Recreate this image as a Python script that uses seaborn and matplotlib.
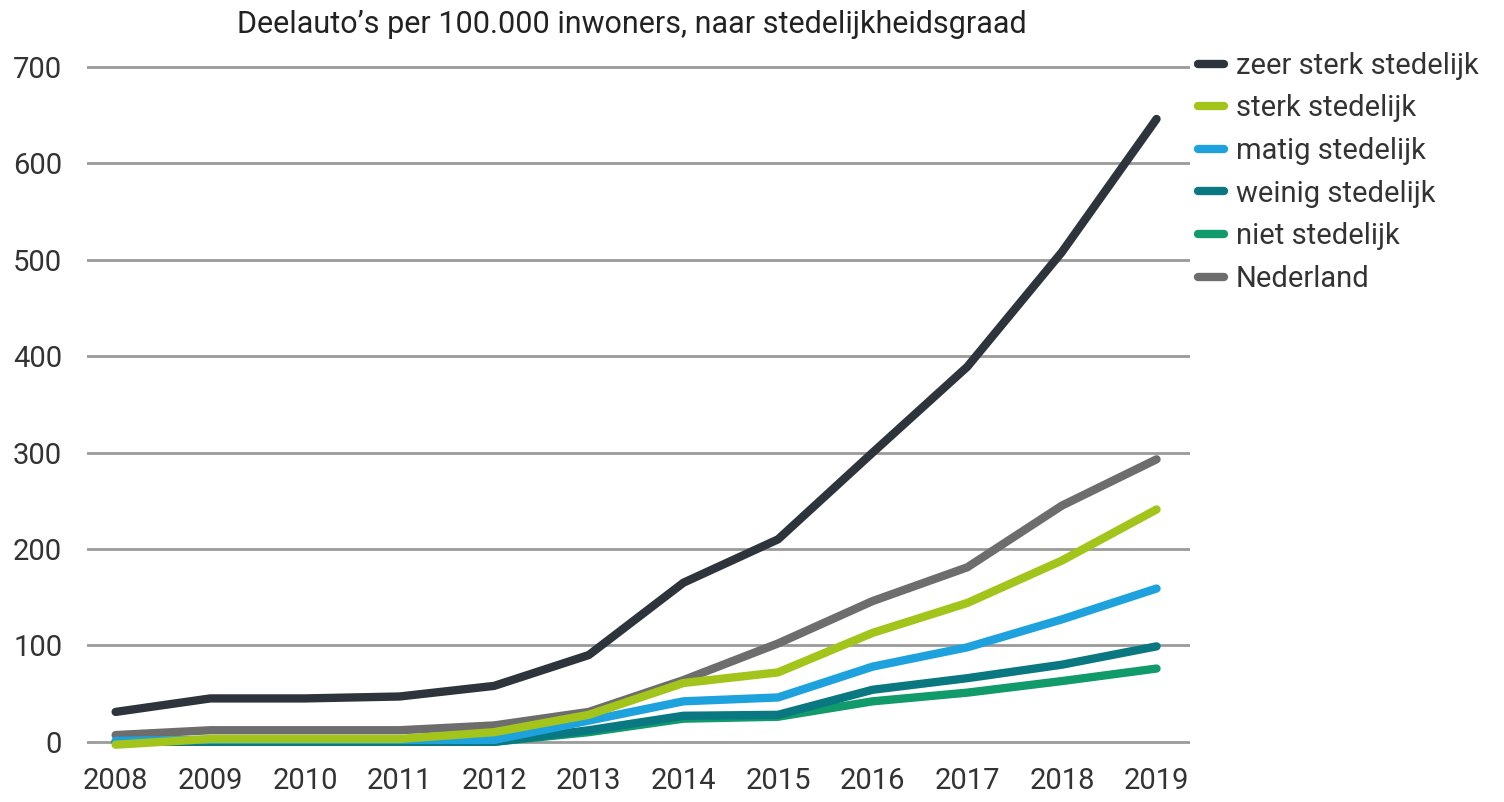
import numpy as np
import pandas as pd
import matplotlib
matplotlib.use("Agg")
import matplotlib.pyplot as plt
import seaborn as sns

# Data
years = list(range(2008, 2020))
zeer_sterk = [31, 45, 45, 47, 58, 90, 165, 210, 300, 389, 508, 646]
sterk = [-3, 3, 3, 3, 10, 28, 61, 72, 113, 144, 188, 241]
matig = [1, 2, 2, 2, 2, 22, 42, 46, 78, 98, 127, 159]
weinig = [0, 0, 0, 0, 0, 12, 27, 28, 54, 66, 80, 99]
niet = [0, 0, 0, 0, 0, 10, 24, 26, 42, 51, 63, 76]
nederland = [7, 12, 12, 12, 17, 31, 64, 102, 146, 181, 245, 293]

series_names = ["zeer sterk stedelijk", "sterk stedelijk", "matig stedelijk",
                "weinig stedelijk", "niet stedelijk", "Nederland"]
colors = ["#2e343b", "#a3c41a", "#1ea2dd", "#0a7880", "#119a6a", "#6d6d6d"]
y_ticks = [0, 100, 200, 300, 400, 500, 600, 700]

df = pd.DataFrame({
    "jaar": years * 6,
    "waarde": zeer_sterk + sterk + matig + weinig + niet + nederland,
    "reeks": np.repeat(series_names, len(years)),
})

sns.set_style("white")
plt.rcParams["font.family"] = ["Roboto", "DejaVu Sans"]

fig = plt.figure(figsize=(15.04, 8.02), dpi=100)
ax = fig.add_axes([0.058, 0.051, 0.733, 0.880])

for y in y_ticks:
    ax.axhline(y, color="#9a9a9a", lw=2, zorder=0)

# draw order so the dark line stays on top
order = ["Nederland", "niet stedelijk", "weinig stedelijk", "matig stedelijk",
         "sterk stedelijk", "zeer sterk stedelijk"]
palette = dict(zip(series_names, colors))
for name in order:
    sub = df[df["reeks"] == name]
    sns.lineplot(data=sub, x="jaar", y="waarde", color=palette[name], lw=6,
                 solid_capstyle="round", solid_joinstyle="round", ax=ax, legend=False)

ax.set_xlim(2007.7, 2019.35)
ax.set_ylim(-20, 712)
ax.set_xticks(years)
ax.set_yticks(y_ticks)
ax.tick_params(axis="both", length=0, labelsize=21, colors="#333333")
ax.tick_params(axis="y", pad=18)
ax.tick_params(axis="x", pad=4)
ax.set_xlabel("")
ax.set_ylabel("")
sns.despine(ax=ax, left=True, bottom=True)

fig.text(0.42, 0.969, "Deelauto\u2019s per 100.000 inwoners, naar stedelijkheidsgraad",
         ha="center", va="center", fontsize=22, color="#222222")

handles = [plt.Line2D([], [], color=c, lw=6) for c in colors]
fig.legend(handles, series_names, loc="upper left", bbox_to_anchor=(0.779, 0.968),
           frameon=False, fontsize=21, handlelength=0.9, handletextpad=0.4,
           labelspacing=0.5, labelcolor="#333333")

fig.savefig("out.png", dpi=100)
